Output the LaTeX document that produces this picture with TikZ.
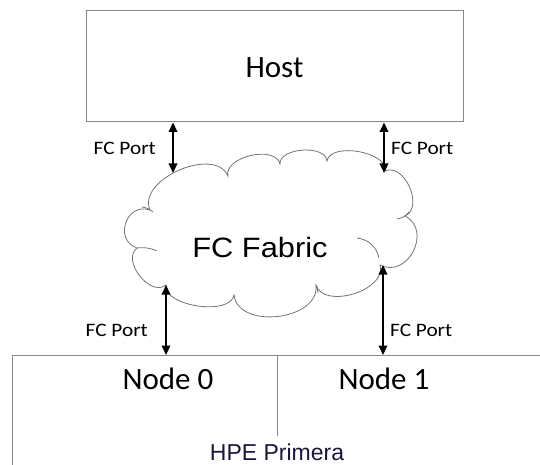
\documentclass[tikz,border=0pt]{standalone}
\usepackage{fontspec}
\setmainfont{Carlito}
\newfontfamily\arialf{Liberation Sans}
\usetikzlibrary{arrows.meta}
\definecolor{boxgray}{RGB}{135,135,135}
\definecolor{cloudgray}{RGB}{115,115,115}
\definecolor{hpecol}{RGB}{30,20,60}
\begin{document}
\begin{tikzpicture}[x=1pt,y=-1pt,
  boxline/.style={draw=boxgray, line width=1pt},
  cloudline/.style={draw=cloudgray, line width=0.8pt},
  link/.style={line width=2.2pt, {Triangle[length=9.5pt,width=8.5pt]}-{Triangle[length=9.5pt,width=8.5pt]}},
  bigtext/.style={font=\fontsize{31}{36}\selectfont, inner sep=0pt, anchor=base},
  porttext/.style={font=\fontsize{19}{22}\selectfont, inner sep=0pt, anchor=base},
  lobe/.style={bend left=90, looseness=#1},
]
\useasboundingbox (0,0) rectangle (540,465);
\clip (0,0) rectangle (540,465);

% Host box
\node[boxline, minimum width=377pt, minimum height=111pt, inner sep=0pt] (host) at (274.5,66.5) {};
\node[bigtext] (hostlabel) at (274.5,78) {Host};

% Storage box (cut off at right and bottom)
\node[boxline, minimum width=560pt, minimum height=160pt, inner sep=0pt, anchor=north west] (storage) at (12,355) {};
\coordinate (divtop) at (277,355);
\coordinate (divbot) at (277,436);
\draw[boxline] (divtop) -- (divbot);
\node[bigtext] (node0) at (168,389) {Node 0};
\node[bigtext] (node1) at (384,389) {Node 1};
\node[font=\arialf\fontsize{23}{26}\selectfont, text=hpecol, inner sep=0pt, anchor=base] (hpe) at (277,460.5) {HPE Primera};

% Cloud
\draw[cloudline]
  (150,210) to[lobe=1.0] (228,176)
            to[lobe=0.95] (280,164)
            to[lobe=0.9] (327,161)
            to[lobe=0.85] (385,171)
            to[lobe=1.1] (405,216)
            to[lobe=1.45] (380,265)
            to[lobe=1.0] (316,285)
            to[lobe=1.1] (234,295)
            to[lobe=0.8] (166,285)
            to[lobe=1.1] (137,248)
            to[lobe=1.6] (150,210) -- cycle;
% inner strokes of the cloud
\draw[cloudline] (357,238) to[bend left=35] (379,258);
\draw[cloudline] (137,248) to[bend left=15] (157,251);
\draw[cloudline] (142,207) to[bend left=15] (153,212);
\draw[cloudline] (397,219) to[bend right=20] (409,212);
\draw[cloudline] (316,285) to[bend left=10] (318,293);
\node[font=\arialf\fontsize{28}{32}\selectfont, inner sep=0pt, anchor=base] (fabric) at (260,257) {\scalebox{1.1}[1]{FC Fabric}};

% Connection points
\coordinate (c1) at (173,173);
\coordinate (c2) at (384,173);
\coordinate (c3) at (166,285);
\coordinate (c4) at (383,265);

% Arrows
\draw[link] (c1 |- host.south) -- (c1);
\draw[link] (c2 |- host.south) -- (c2);
\draw[link] (c3) -- (c3 |- storage.north);
\draw[link] (c4) -- (c4 |- storage.north);

% Port labels
\node[porttext, anchor=base east] (p1) at (156,154) {\scalebox{1.12}[1]{FC Port}};
\node[porttext, anchor=base west] (p2) at (391,154) {\scalebox{1.12}[1]{FC Port}};
\node[porttext, anchor=base east] (p3) at (148,336) {\scalebox{1.12}[1]{FC Port}};
\node[porttext, anchor=base west] (p4) at (390,336) {\scalebox{1.12}[1]{FC Port}};
\end{tikzpicture}
\end{document}
